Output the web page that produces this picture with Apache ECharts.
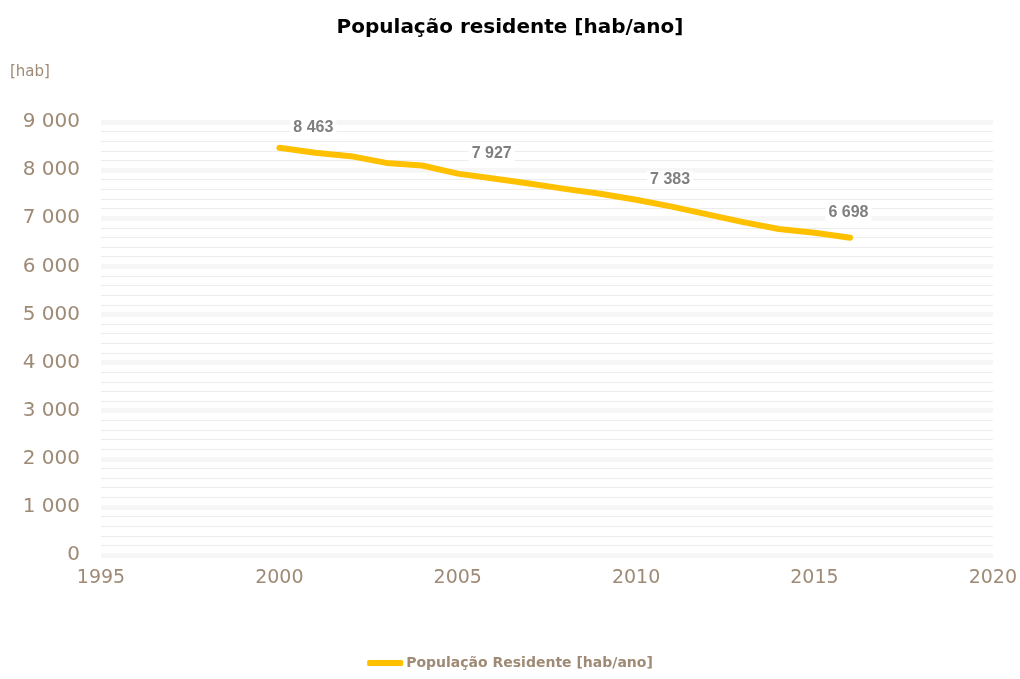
<!DOCTYPE html>
<html>
<head>
<meta charset="utf-8">
<script src="https://cdn.jsdelivr.net/npm/echarts@6/dist/echarts.min.js"></script>
<style>
html,body{margin:0;padding:0;background:#fff;}
#chart{width:1020px;height:679px;}
</style>
</head>
<body>
<div id="chart"></div>
<script>
const years = [2000,2001,2002,2003,2004,2005,2006,2007,2008,2009,2010,2011,2012,2013,2014,2015,2016];
const population = [8463,8360,8290,8150,8095,7927,7825,7720,7610,7510,7383,7240,7080,6920,6775,6698,6595];
const labeledYears = [2000,2005,2010,2015];
const seriesName = 'População Residente [hab/ano]';
const titleText = 'População residente [hab/ano]';
const yUnit = '[hab]';

const axisColor = '#9e8a75';
const fmt = v => String(v).replace(/\B(?=(\d{3})+(?!\d))/g, ' ');

const labelStyle = {
  show: true,
  position: 'top',
  offset: [34, -6],
  formatter: p => fmt(p.value[1]),
  fontFamily: 'Liberation Sans',
  fontWeight: 'bold',
  fontSize: 16,
  color: '#7f7f7f',
  backgroundColor: '#fff',
  padding: [1, 3]
};

const data = years.map((y, i) => {
  const d = { value: [y, population[i]] };
  if (labeledYears.includes(y)) {
    d.label = Object.assign({}, labelStyle);
  }
  return d;
});

const chart = echarts.init(document.getElementById('chart'));
chart.setOption({
  animation: false,
  backgroundColor: '#fff',
  title: {
    text: titleText,
    left: 'center',
    top: 13,
    textStyle: { fontFamily: 'DejaVu Sans', fontWeight: 'bold', fontSize: 20, color: '#000' }
  },
  grid: { left: 101, right: 27, top: 122, bottom: 124 },
  legend: {
    bottom: 4,
    left: 'center',
    itemWidth: 36,
    itemHeight: 6,
    itemGap: 4,
    icon: 'roundRect',
    textStyle: { fontFamily: 'DejaVu Sans', fontWeight: 'bold', fontSize: 14, color: axisColor, padding: [0, 0, 0, -2] },
    data: [seriesName]
  },
  xAxis: {
    type: 'value',
    min: 1995,
    max: 2020,
    interval: 5,
    axisLine: { show: false },
    axisTick: { show: false },
    splitLine: { show: false },
    axisLabel: { color: axisColor, fontFamily: 'DejaVu Sans', fontSize: 19, margin: 14, formatter: v => String(v) }
  },
  yAxis: {
    type: 'value',
    name: yUnit,
    nameLocation: 'end',
    nameGap: 0,
    nameTextStyle: { color: axisColor, fontFamily: 'DejaVu Sans', fontSize: 15, align: 'left', padding: [0, 0, 42, -91] },
    min: 0,
    max: 9000,
    interval: 1000,
    minorTick: { show: false, splitNumber: 5 },
    minorSplitLine: { show: true, lineStyle: { color: '#ececec', width: 1 } },
    axisLine: { show: false },
    axisTick: { show: false },
    splitLine: { show: true, lineStyle: { color: '#f6f6f6', width: 5 } },
    axisLabel: { color: axisColor, fontFamily: 'DejaVu Sans', fontSize: 20, margin: 21, formatter: fmt }
  },
  series: [{
    name: seriesName,
    type: 'line',
    data: data,
    showSymbol: true,
    symbol: 'circle',
    symbolSize: 0.1,
    lineStyle: { color: '#FFC000', width: 6, cap: 'round', join: 'round' },
    itemStyle: { color: '#FFC000' },
    label: Object.assign({}, labelStyle, { show: false })
  }]
});
</script>
</body>
</html>
